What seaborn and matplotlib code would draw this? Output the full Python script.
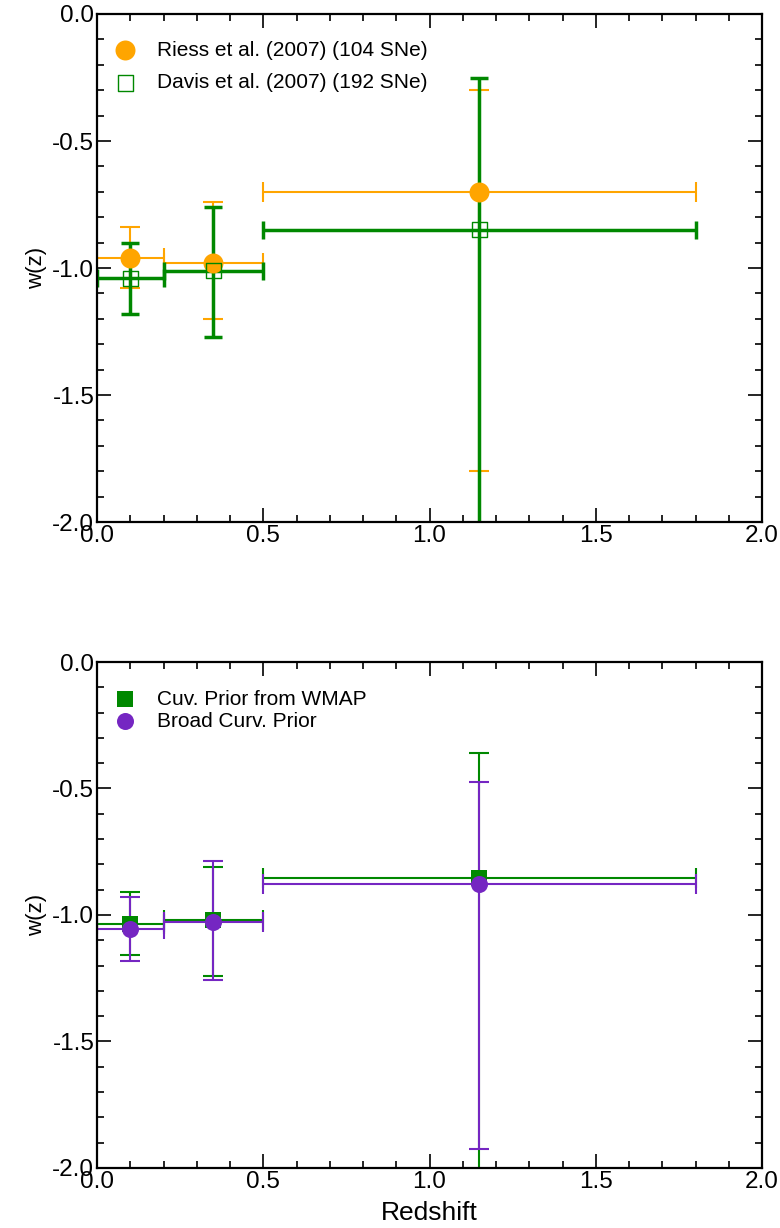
import matplotlib
matplotlib.use("Agg")
import matplotlib.pyplot as plt
from matplotlib.ticker import MultipleLocator
import numpy as np
import seaborn as sns

# redshift bins
z = [0.1, 0.35, 1.15]
z_lo = [0.0, 0.2, 0.5]
z_hi = [0.2, 0.5, 1.8]

# top panel: SN compilations
riess_w = [-0.96, -0.98, -0.70]
riess_up = [-0.84, -0.74, -0.30]
riess_dn = [-1.08, -1.20, -1.80]

davis_w = [-1.04, -1.01, -0.85]
davis_up = [-0.90, -0.76, -0.25]
davis_dn = [-1.18, -1.27, -2.30]

# bottom panel: curvature priors
wmap_w = [-1.035, -1.02, -0.855]
wmap_up = [-0.91, -0.81, -0.36]
wmap_dn = [-1.16, -1.24, -2.30]

broad_w = [-1.055, -1.028, -0.877]
broad_up = [-0.93, -0.787, -0.474]
broad_dn = [-1.18, -1.257, -1.925]

ORANGE = "#FFA500"
GREEN = "#008800"
PURPLE = "#7526C2"

sns.set_style("ticks", {"axes.edgecolor": "black", "text.color": "black",
                        "xtick.color": "black", "ytick.color": "black",
                        "axes.labelcolor": "black"})
plt.rcParams["font.family"] = ["Liberation Sans", "DejaVu Sans"]


def errs(w, up, dn):
    w = np.array(w)
    return [w - np.array(dn), np.array(up) - w]


def xerrs():
    zz = np.array(z)
    return [zz - np.array(z_lo), np.array(z_hi) - zz]


def draw_series(ax, w, up, dn, color, lw, cap, marker, size, label, open_marker=False):
    ax.errorbar(z, w, xerr=xerrs(), yerr=errs(w, up, dn), fmt="none", ecolor=color,
                elinewidth=lw, capsize=cap, capthick=lw)
    if open_marker:
        kw = dict(facecolor="none", edgecolor=color, linewidth=1.0)
    else:
        kw = dict(edgecolor=color, linewidth=0)
    sns.scatterplot(x=z, y=w, ax=ax, color=color, marker=marker, s=size, label=label,
                    zorder=5, **kw)


def style_axes(ax, lspacing, top):
    ax.set_xlim(0, 2.0)
    ax.set_ylim(-2.0, 0.0)
    ax.xaxis.set_minor_locator(MultipleLocator(0.1))
    ax.yaxis.set_minor_locator(MultipleLocator(0.1))
    ax.set_xticks(np.arange(0, 2.01, 0.5))
    ax.set_xticklabels(["0.0", "0.5", "1.0", "1.5", "2.0"])
    ax.set_yticks(np.arange(-2.0, 0.01, 0.5))
    ax.set_yticklabels(["-2.0", "-1.5", "-1.0", "-0.5", "0.0"])
    ax.tick_params(which="both", direction="in", top=True, right=True, width=1.2,
                   labelsize=17.5, pad=2, colors="black")
    ax.tick_params(which="major", length=10)
    ax.tick_params(which="minor", length=5)
    for sp in ax.spines.values():
        sp.set_linewidth(1.6)
        sp.set_color("black")
    ax.set_ylabel("w(z)", fontsize=16, labelpad=4, color="black")
    ax.legend(loc="upper left", bbox_to_anchor=(0.0296, top), frameon=False,
              fontsize=15, borderpad=0, borderaxespad=0, handlelength=0.8,
              handletextpad=1.13, labelspacing=lspacing, labelcolor="black")


fig = plt.figure(figsize=(7.8, 12.28), dpi=100)
ax1 = fig.add_axes([0.1244, 0.5749, 0.8526, 0.4137])
ax2 = fig.add_axes([0.1244, 0.0489, 0.8526, 0.4120])

draw_series(ax1, riess_w, riess_up, riess_dn, ORANGE, 1.5, 7, "o", 207,
            "Riess et al. (2007) (104 SNe)")
draw_series(ax1, davis_w, davis_up, davis_dn, GREEN, 2.5, 6.5, "s", 117,
            "Davis et al. (2007) (192 SNe)", open_marker=True)
style_axes(ax1, 0.65, 0.947)

draw_series(ax2, wmap_w, wmap_up, wmap_dn, GREEN, 1.5, 7, "s", 132,
            "Cuv. Prior from WMAP")
draw_series(ax2, broad_w, broad_up, broad_dn, PURPLE, 1.5, 7, "o", 150,
            "Broad Curv. Prior")
style_axes(ax2, 0.15, 0.945)
ax2.set_xlabel("Redshift", fontsize=19, labelpad=6, color="black")

fig.savefig("out.png", dpi=100)
